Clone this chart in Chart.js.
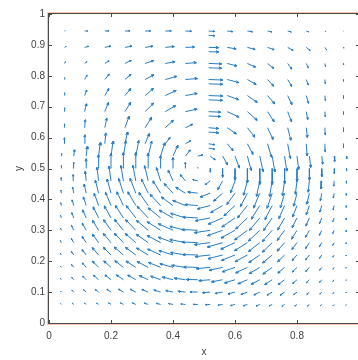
<!DOCTYPE html>
<html>
<head>
<meta charset="utf-8">
<script src="https://cdn.jsdelivr.net/npm/chart.js@4.4.1/dist/chart.umd.min.js"></script>
<style>
  html, body { margin: 0; padding: 0; background: #fff; overflow: hidden; }
  #wrap { width: 358px; height: 360px; overflow: hidden; }
</style>
</head>
<body>
<div id="wrap"><canvas id="quiver" width="372" height="360"></canvas></div>
<script>
// Axis ticks
const xTicks = [0, 0.2, 0.4, 0.6, 0.8, 1];
const yTicks = [0, 0.1, 0.2, 0.3, 0.4, 0.5, 0.6, 0.7, 0.8, 0.9, 1];

// Fine grid (lower part of the cavity)
const lowerX = [0.04, 0.08, 0.12, 0.16, 0.20, 0.24, 0.28, 0.32, 0.36, 0.40, 0.44, 0.48,
                0.52, 0.56, 0.60, 0.64, 0.68, 0.72, 0.76, 0.80, 0.84, 0.88, 0.92, 0.96];
const lowerY = [0.06, 0.10, 0.14, 0.18, 0.22, 0.26, 0.30, 0.34, 0.38, 0.42, 0.46, 0.50, 0.54];
const lowerU = [
  [-0.8,-1.5,-1.7,-2,-2.5,-3,-3.4,-3.8,-4.1,-4.4,-4.6,-4.7,-4.7,-4.6,-4.3,-4,-3.6,-3.2,-2.7,-2.2,-1.9,-1.6,-1.3,-0.8],
  [-0.9,-1.9,-2.6,-3.3,-4,-4.8,-5.5,-6.2,-6.8,-7.2,-7.5,-7.7,-7.7,-7.5,-7,-6.5,-5.9,-5.2,-4.5,-3.3,-2.6,-2,-1.3,-0.6],
  [-1,-2,-3.5,-5,-6,-7,-8,-8.9,-9.9,-10.7,-11.2,-11.4,-11.4,-11.1,-10.4,-9.5,-8.5,-7.5,-6.5,-4.3,-3.1,-2.3,-1.4,-0.6],
  [-1,-2.3,-3.8,-6,-7.2,-8.5,-9.8,-11,-12.2,-13.1,-13.7,-14,-13.9,-13.5,-12.7,-11.7,-10.5,-9.3,-6.7,-4.7,-3.6,-2.2,-1.3,-0.6],
  [-1.1,-2.4,-4.1,-6.3,-7.6,-9,-10.2,-11.6,-12.9,-14.1,-14.8,-15.1,-15,-14.6,-13.6,-12.3,-11,-9.6,-7,-4.9,-3.8,-2.3,-1.4,-0.6],
  [-1.1,-2.4,-4,-6.2,-7.6,-8.9,-10.4,-11.9,-13.4,-14.6,-15.5,-15.8,-15.7,-15.2,-14.2,-12.8,-11.3,-9.8,-7.5,-5.2,-4,-2.4,-1.5,-0.6],
  [-1,-2.3,-3.9,-6,-7.3,-8.8,-10.1,-11.6,-13.3,-14.6,-15.5,-16,-15.8,-15.1,-14,-12.8,-11.3,-9.8,-7.5,-5.5,-3.9,-2.5,-1.5,-0.6],
  [-0.9,-2,-3.5,-5.4,-6.7,-8,-9.5,-11,-12.4,-13.8,-14.7,-15,-14.8,-14.3,-13.1,-11.7,-10.3,-8.8,-7,-5,-3.6,-2.3,-1.4,-0.6],
  [-0.7,-1.7,-2.8,-4.4,-5.5,-6.6,-7.9,-9.2,-10.4,-11.6,-12.5,-12.9,-12.8,-12,-11.1,-9.9,-8.5,-7.3,-5.8,-4.4,-3.1,-2,-1.2,-0.5],
  [-0.5,-1.2,-2,-3.2,-3.9,-4.7,-5.7,-6.7,-7.6,-8.7,-9.6,-10,-10,-9,-8.2,-7.1,-6.2,-5.2,-4.3,-3.3,-2.5,-1.5,-0.9,-0.4],
  [-0.3,-0.6,-1,-1.6,-2,-2.5,-3,-3.6,-4.1,-4.8,-5,-5,-5,-5,-4.4,-3.8,-3.3,-2.7,-2.2,-1.7,-1.3,-0.8,-0.5,-0.2],
  [0,0,0,0,0,0,0,0,0,0,0,0,0,0,0,0,0,0,0,0,0,0,0,0],
  [0.3,0.6,1,1.6,2,2.5,3,3.6,4.1,4.8,5,5,5,5,4.4,3.8,3.3,2.7,2.2,1.7,1.3,0.8,0.5,0.2]
];
const lowerV = [
  [0.8,1.4,1.4,1.5,1.6,1.7,1.6,1.4,1.2,0.9,0.5,0.1,-0.3,-0.7,-1.1,-1.3,-1.5,-1.6,-1.7,-1.6,-1.5,-1.4,-1.3,-0.8],
  [1,1.9,2.4,2.7,2.9,3,2.9,2.6,2.2,1.6,0.9,0.2,-0.6,-1.3,-1.9,-2.4,-2.8,-3,-3,-2.5,-2.3,-1.9,-1.4,-0.8],
  [1.3,2.3,3.6,4.5,4.8,4.9,4.7,4.2,3.6,2.7,1.6,0.3,-0.9,-2.1,-3.2,-4,-4.5,-4.8,-4.9,-3.7,-3,-2.5,-1.6,-0.8],
  [1.4,2.9,4.5,6.2,6.5,6.7,6.4,5.9,5,3.7,2.1,0.4,-1.3,-2.9,-4.4,-5.5,-6.2,-6.7,-5.7,-4.6,-4,-2.7,-1.8,-0.9],
  [1.7,3.5,5.4,7.4,7.8,8,7.7,7.1,6,4.5,2.6,0.5,-1.6,-3.7,-5.4,-6.6,-7.5,-7.9,-6.7,-5.4,-4.7,-3.2,-2.1,-1],
  [2,4.1,6.2,8.6,9.2,9.3,9.1,8.4,7.2,5.5,3.2,0.7,-2,-4.4,-6.5,-8,-8.9,-9.4,-8.4,-6.7,-5.8,-3.9,-2.6,-1.3],
  [2.3,4.8,7.2,9.9,10.6,10.9,10.6,9.9,8.6,6.6,3.9,0.8,-2.4,-5.3,-7.7,-9.6,-10.7,-11.2,-10.1,-8.6,-6.9,-4.9,-3.2,-1.5],
  [2.5,5.2,8,11.1,12.1,12.5,12.4,11.7,10.1,7.8,4.6,0.9,-2.8,-6.2,-9,-11,-12.3,-12.6,-11.9,-9.8,-7.9,-5.6,-3.7,-1.8],
  [2.8,5.7,8.7,12.2,13.4,13.8,13.8,13.1,11.2,8.7,5.2,1.1,-3.2,-7,-10.2,-12.3,-13.5,-14,-13,-11.4,-9.1,-6.5,-4.2,-2],
  [3,6.1,9.2,13,14.3,14.8,14.9,14.2,12.4,9.7,6,1.3,-3.8,-7.9,-11.2,-13.4,-14.7,-15.1,-14.7,-12.9,-10.9,-7.4,-4.7,-2.4],
  [3.1,6.3,9.6,13.5,14.8,15.4,15.7,15.2,13.3,10.8,6.2,1.3,-3.7,-8.7,-12,-14.3,-15.6,-15.8,-15,-13.4,-11.4,-8.1,-5.2,-2.6],
  [3.2,6.4,9.8,13.8,15,16,16,15.3,13,11,6.2,1.3,-3.7,-8.7,-11.8,-14.5,-15.9,-16,-15.3,-13.1,-11.7,-8.2,-5.3,-2.6],
  [3.1,6.3,9.6,13.5,14.8,15.4,15.7,15.2,13.3,10.8,6.2,1.3,-3.7,-8.7,-12,-14.3,-15.6,-15.8,-15,-13.4,-11.4,-8.1,-5.2,-2.6]
];

// Coarse grid (upper part of the cavity)
const upperX = [0.05, 0.115, 0.18, 0.245, 0.31, 0.375, 0.44, 0.575, 0.64, 0.705, 0.77, 0.83, 0.89, 0.95];
const upperY = [0.945, 0.892, 0.84, 0.788, 0.736, 0.684, 0.632, 0.58];
const upperU = [
  [0.8,3,4,5,5.5,6,6,5.5,5,4.5,3.5,2.5,1,0.3],
  [1.7,3.9,5.9,6.9,7.9,9,9,8.9,7.7,6.6,5.2,3.8,1.7,0.3],
  [1,2.3,4.3,6.3,8.6,9.8,11,9.7,8.2,6.1,4,2.1,0.5,0.1],
  [0.3,2.5,4.5,6.1,8.8,11.6,12,11.6,8.7,6,4,2,0.3,0],
  [0.3,2,4,5.8,8.4,10.9,11.8,11.3,9.8,7.1,4.2,2.1,0.4,0],
  [0.3,1.7,3.7,5.8,8.5,10.4,11.7,11.8,9.7,6.5,3.8,1.4,0.3,0],
  [0.1,0.7,2.1,4.1,6.4,8.2,7.3,9,7.4,5.5,3.1,1,0.2,0],
  [0,0.3,1.1,2.5,4.1,4.9,5.2,5.8,5.6,3.9,2.6,0.8,0.1,0]
];
const upperV = [
  [0.2,0,0,0,0,0,-0.3,-0.7,-0.8,-1,-1,-1,-0.5,-0.2],
  [1,1,1.2,1.2,1.1,0.8,0.3,-1.6,-2.1,-2.4,-3,-3.2,-2.5,-0.9],
  [1.7,1.9,2.5,3,2.8,1.7,0.8,-2.6,-3.8,-5.1,-5.7,-4.5,-3,-1.5],
  [2,4.3,5.4,5.1,4.7,3.1,1,-3.1,-5,-6.7,-6.9,-5.6,-4,-2],
  [3,5.6,6.9,6.9,7.1,5.1,2.1,-4.1,-6.9,-8.4,-9.1,-7.7,-5,-3],
  [4,7.8,9.3,9.3,8.5,6,2.5,-5.5,-8.7,-10.1,-10.3,-7.9,-5,-3],
  [4,8,9.8,11.3,10.2,7.4,3.4,-6.3,-9.5,-11.8,-12.6,-9.9,-7,-4],
  [6,9,10.9,11.7,10.2,6.3,3,-6.9,-10.6,-13.5,-14.8,-12,-8,-4]
];

// Doubled column along the mesh seam near x = 0.5
const seamX = 0.515;
const seamU = [6, 10, 13, 14, 14, 12, 10, 5.9];
const seamV = [-0.5, -0.3, -0.5, -0.5, -0.5, -0.6, -0.9, -1];

// Styles
const arrowColor = 'rgb(38,124,194)';
const axisColor = '#4a4a4a';
const textColor = '#404040';
const fontFamily = '"Liberation Sans", Arial, Helvetica, sans-serif';
const arrowScale = 1 / 310;   // data units per unit of velocity
const seamGap = 0.014;

// Build one polyline per arrow: tail -> head -> barb -> head -> barb, then a gap
function pushArrow(pts, x, y, u, v) {
    const dx = u * arrowScale;
    const dy = v * arrowScale;
    const len = Math.hypot(dx, dy);
    if (len < 1e-5) return;
    const hx = x + dx, hy = y + dy;
    const ang = Math.atan2(dy, dx);
    const h = Math.min(len * 0.28, 2.8 * arrowScale);
    const spread = 0.4;
    pts.push({ x: x, y: y });
    pts.push({ x: hx, y: hy });
    pts.push({ x: hx - h * Math.cos(ang - spread), y: hy - h * Math.sin(ang - spread) });
    pts.push({ x: hx, y: hy });
    pts.push({ x: hx - h * Math.cos(ang + spread), y: hy - h * Math.sin(ang + spread) });
    pts.push({ x: hx, y: null });
}

const arrowPoints = [];
lowerY.forEach((y, j) => {
    lowerX.forEach((x, i) => pushArrow(arrowPoints, x, y, lowerU[j][i], lowerV[j][i]));
});
upperY.forEach((y, j) => {
    upperX.forEach((x, i) => pushArrow(arrowPoints, x, y, upperU[j][i], upperV[j][i]));
    pushArrow(arrowPoints, seamX, y, seamU[j], seamV[j]);
    pushArrow(arrowPoints, seamX, y - seamGap, seamU[j], seamV[j]);
});

// Box and inward tick marks, MATLAB style
const boxPlugin = {
    id: 'box',
    afterDatasetsDraw(chart) {
        const { ctx, chartArea: a, scales } = chart;
        ctx.save();
        // faint warm fringe around the axes frame
        ctx.strokeStyle = 'rgba(240,150,110,0.55)';
        ctx.lineWidth = 1;
        ctx.strokeRect(Math.round(a.left) - 1.5, Math.round(a.top) - 1.5,
            Math.round(a.right - a.left) + 3, Math.round(a.bottom - a.top) + 3);
        ctx.strokeStyle = axisColor;
        ctx.strokeRect(Math.round(a.left) - 0.5, Math.round(a.top) - 0.5,
            Math.round(a.right - a.left) + 1, Math.round(a.bottom - a.top) + 1);
        ctx.beginPath();
        xTicks.forEach(t => {
            const px = Math.round(scales.x.getPixelForValue(t)) + 0.5;
            ctx.moveTo(px, a.bottom); ctx.lineTo(px, a.bottom - 3);
            ctx.moveTo(px, a.top); ctx.lineTo(px, a.top + 3);
        });
        yTicks.forEach(t => {
            const py = Math.round(scales.y.getPixelForValue(t)) + 0.5;
            ctx.moveTo(a.left, py); ctx.lineTo(a.left + 3, py);
            ctx.moveTo(a.right, py); ctx.lineTo(a.right - 3, py);
        });
        ctx.stroke();
        ctx.restore();
    }
};

const tickFont = { family: fontFamily, size: 10 };
const fmt = v => (Math.round(v * 10) / 10).toString();

new Chart(document.getElementById('quiver'), {
    type: 'line',
    data: {
        datasets: [{
            data: arrowPoints,
            borderColor: arrowColor,
            borderWidth: 1,
            pointRadius: 0,
            tension: 0,
            spanGaps: false,
            fill: false
        }]
    },
    options: {
        responsive: false,
        animation: false,
        events: [],
        layout: { padding: { top: 14, right: 13, left: 0, bottom: 0 } },
        plugins: { legend: { display: false }, tooltip: { enabled: false } },
        scales: {
            x: {
                type: 'linear', min: 0, max: 1,
                afterBuildTicks: s => { s.ticks = xTicks.map(v => ({ value: v })); },
                afterFit: s => { s.height = 37; },
                grid: { display: false, drawTicks: false },
                border: { display: false },
                ticks: {
                    autoSkip: false, maxRotation: 0, padding: 7,
                    color: textColor, font: tickFont,
                    callback: v => (v === 1 ? '' : fmt(v))
                },
                title: { display: true, text: 'x', color: textColor, font: tickFont, padding: { top: 0, bottom: 2 } }
            },
            y: {
                type: 'linear', min: 0, max: 1,
                afterBuildTicks: s => { s.ticks = yTicks.map(v => ({ value: v })); },
                afterFit: s => { s.width = 49; },
                grid: { display: false, drawTicks: false },
                border: { display: false },
                ticks: {
                    autoSkip: false, padding: 4,
                    color: textColor, font: tickFont,
                    callback: v => fmt(v)
                },
                title: { display: true, text: 'y', color: textColor, font: tickFont, padding: { top: 13, bottom: 0 } }
            }
        }
    },
    plugins: [boxPlugin]
});
</script>
</body>
</html>
